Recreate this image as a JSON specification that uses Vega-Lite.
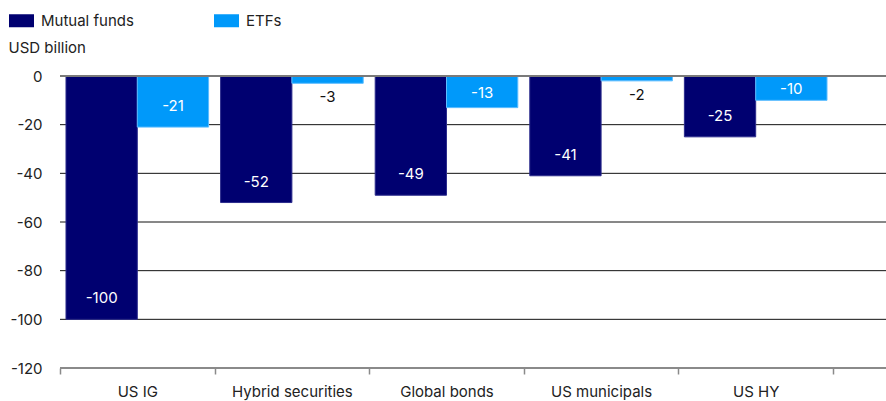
{
  "$schema": "https://vega.github.io/schema/vega-lite/v6.json",
  "autosize": {"type": "none"},
  "padding": {"left": 60, "top": 76, "right": 0, "bottom": 33},
  "width": 826,
  "height": 292,
  "background": "white",
  "config": {
    "view": {"stroke": null},
    "font": "Inter",
    "text": {"font": "Inter"}
  },
  "data": {
    "values": [
      {"category": "US IG", "series": "Mutual funds", "value": -100},
      {"category": "US IG", "series": "ETFs", "value": -21},
      {"category": "Hybrid securities", "series": "Mutual funds", "value": -52},
      {"category": "Hybrid securities", "series": "ETFs", "value": -3},
      {"category": "Global bonds", "series": "Mutual funds", "value": -49},
      {"category": "Global bonds", "series": "ETFs", "value": -13},
      {"category": "US municipals", "series": "Mutual funds", "value": -41},
      {"category": "US municipals", "series": "ETFs", "value": -2},
      {"category": "US HY", "series": "Mutual funds", "value": -25},
      {"category": "US HY", "series": "ETFs", "value": -10}
    ]
  },
  "encoding": {
    "x": {
      "field": "category",
      "type": "nominal",
      "sort": null,
      "scale": {"range": [0, 773], "paddingInner": 0, "paddingOuter": 0},
      "axis": {
        "title": null,
        "domain": false,
        "tickBand": "extent",
        "tickColor": "#8a8a8a",
        "tickWidth": 1.5,
        "tickSize": 6,
        "labelPadding": 10,
        "labelAngle": 0,
        "labelFontSize": 15,
        "labelColor": "#222222",
        "labelFont": "Inter",
        "grid": false
      }
    },
    "xOffset": {"field": "series", "type": "nominal", "sort": ["Mutual funds", "ETFs"], "scale": {"paddingInner": 0, "paddingOuter": 0.084}},
    "y": {
      "field": "value",
      "type": "quantitative",
      "scale": {"domain": [-120, 0], "nice": false, "zero": true},
      "axis": {
        "values": [-120, -100, -80, -60, -40, -20, 0],
        "labelExpr": "datum.value + ''",
        "title": "USD billion",
        "titleAngle": 0,
        "titleAlign": "left",
        "titleBaseline": "middle",
        "titleX": -52,
        "titleY": -29,
        "titleFontSize": 15,
        "titleFontWeight": "normal",
        "titleColor": "#222222",
        "titleFont": "Inter",
        "domain": false,
        "ticks": false,
        "labelPadding": 18,
        "labelFontSize": 15,
        "labelColor": "#222222",
        "labelFont": "Inter",
        "grid": false
      }
    }
  },
  "layer": [
    {
      "data": {"values": [{"g": -20}, {"g": -40}, {"g": -60}, {"g": -80}, {"g": -100}]},
      "mark": {"type": "rule", "color": "#111111", "strokeWidth": 1},
      "encoding": {"y": {"field": "g", "type": "quantitative"}, "x": null, "xOffset": null}
    },
    {
      "mark": {"type": "bar", "strokeWidth": 1},
      "encoding": {
        "color": {
          "field": "series",
          "type": "nominal",
          "sort": ["Mutual funds", "ETFs"],
          "scale": {"domain": ["Mutual funds", "ETFs"], "range": ["#000070", "#0099fa"]},
          "legend": {
            "title": null,
            "orient": "none",
            "legendX": -51,
            "legendY": -68,
            "direction": "horizontal",
            "symbolType": "M-1,-0.52H1V0.52H-1Z",
            "symbolSize": 625,
            "symbolStrokeWidth": 0,
            "symbolOpacity": 1,
            "labelFontSize": 15,
            "labelColor": "#222222",
            "labelFont": "Inter",
            "labelOffset": 7,
            "columnPadding": 80
          }
        },
        "stroke": {
          "field": "series",
          "type": "nominal",
          "scale": {"domain": ["Mutual funds", "ETFs"], "range": ["#2c2c8c", "#5cbcff"]},
          "legend": null
        }
      }
    },
    {
      "transform": [{"filter": "datum.value <= -20"}],
      "mark": {"type": "text", "dy": -21, "fontSize": 15, "color": "white", "font": "Inter"},
      "encoding": {"text": {"field": "value", "type": "nominal"}}
    },
    {
      "transform": [{"filter": "datum.value > -20 && datum.value <= -12"}],
      "mark": {"type": "text", "dy": -15, "fontSize": 15, "color": "white", "font": "Inter"},
      "encoding": {"text": {"field": "value", "type": "nominal"}}
    },
    {
      "transform": [{"filter": "datum.value > -12 && datum.value <= -5"}],
      "mark": {"type": "text", "dy": -11, "fontSize": 15, "color": "white", "font": "Inter"},
      "encoding": {"text": {"field": "value", "type": "nominal"}}
    },
    {
      "transform": [{"filter": "datum.value > -5"}],
      "mark": {"type": "text", "dy": 14, "fontSize": 15, "color": "#111111", "font": "Inter"},
      "encoding": {"text": {"field": "value", "type": "nominal"}}
    },
    {
      "mark": {"type": "rule", "color": "#7a7a7a", "strokeWidth": 2},
      "encoding": {"y": {"datum": 0}, "x": null, "xOffset": null}
    },
    {
      "mark": {"type": "rule", "color": "#8a8a8a", "strokeWidth": 1.5},
      "encoding": {"y": {"datum": -120}, "x": null, "xOffset": null}
    }
  ]
}
